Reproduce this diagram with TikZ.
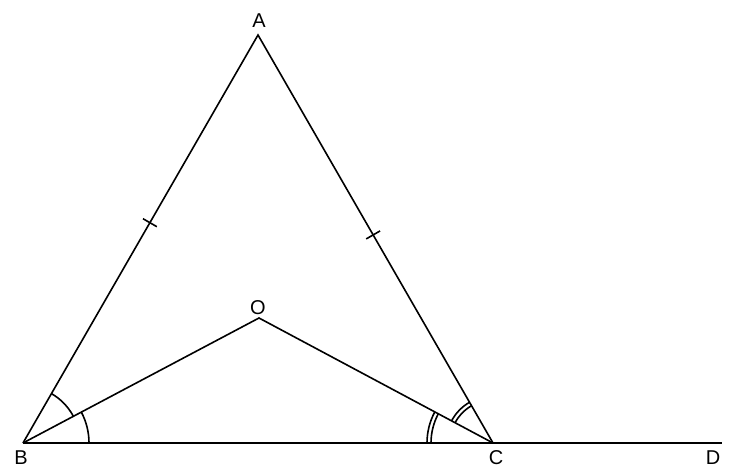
\documentclass[tikz,border=0pt]{standalone}
\usepackage{fontspec}
\setmainfont{Liberation Sans}
\usetikzlibrary{angles,calc}
\begin{document}
\begin{tikzpicture}[x=0.75pt,y=0.75pt,
  seg/.style={line width=1.2pt, line join=miter},
  lbl/.style={font=\fontsize{15}{17}\selectfont, inner sep=0pt},
  arcmark/.style={draw, line width=1.2pt}]
\useasboundingbox (0,0) rectangle (738,471);
\coordinate (A) at (258,436);
\coordinate (B) at (23,28);
\coordinate (C) at (493,28);
\coordinate (D) at (722,28);
\coordinate (O) at (259,153);
\draw[seg] (B) -- (A) -- (C);
\draw[seg] (B) -- (D);
\draw[seg] (B) -- (O) -- (C);
% ticks
\draw[seg] ($(B)!0.54!(A)!6pt!90:(A)$) -- ($(B)!0.54!(A)!6pt!-90:(A)$);
\draw[seg] ($(A)!0.49!(C)!6pt!90:(C)$) -- ($(A)!0.49!(C)!6pt!-90:(C)$);
% angle arcs
\pic[arcmark, angle radius=42.75pt] {angle = O--B--A};
\pic[arcmark, angle radius=49.5pt] {angle = C--B--O};
\pic[arcmark, angle radius=46.5pt] {angle = O--C--B};
\pic[arcmark, angle radius=49.5pt] {angle = O--C--B};
\pic[arcmark, angle radius=32.25pt] {angle = A--C--O};
\pic[arcmark, angle radius=35.25pt] {angle = A--C--O};
% labels
\node[lbl] (lA) at (259,450.5) {A};
\node[lbl] (lB) at (21,13.5) {B};
\node[lbl] (lC) at (496,13.5) {C};
\node[lbl] (lD) at (713,13.5) {D};
\node[lbl] (lO) at (258,163) {O};
\end{tikzpicture}
\end{document}
